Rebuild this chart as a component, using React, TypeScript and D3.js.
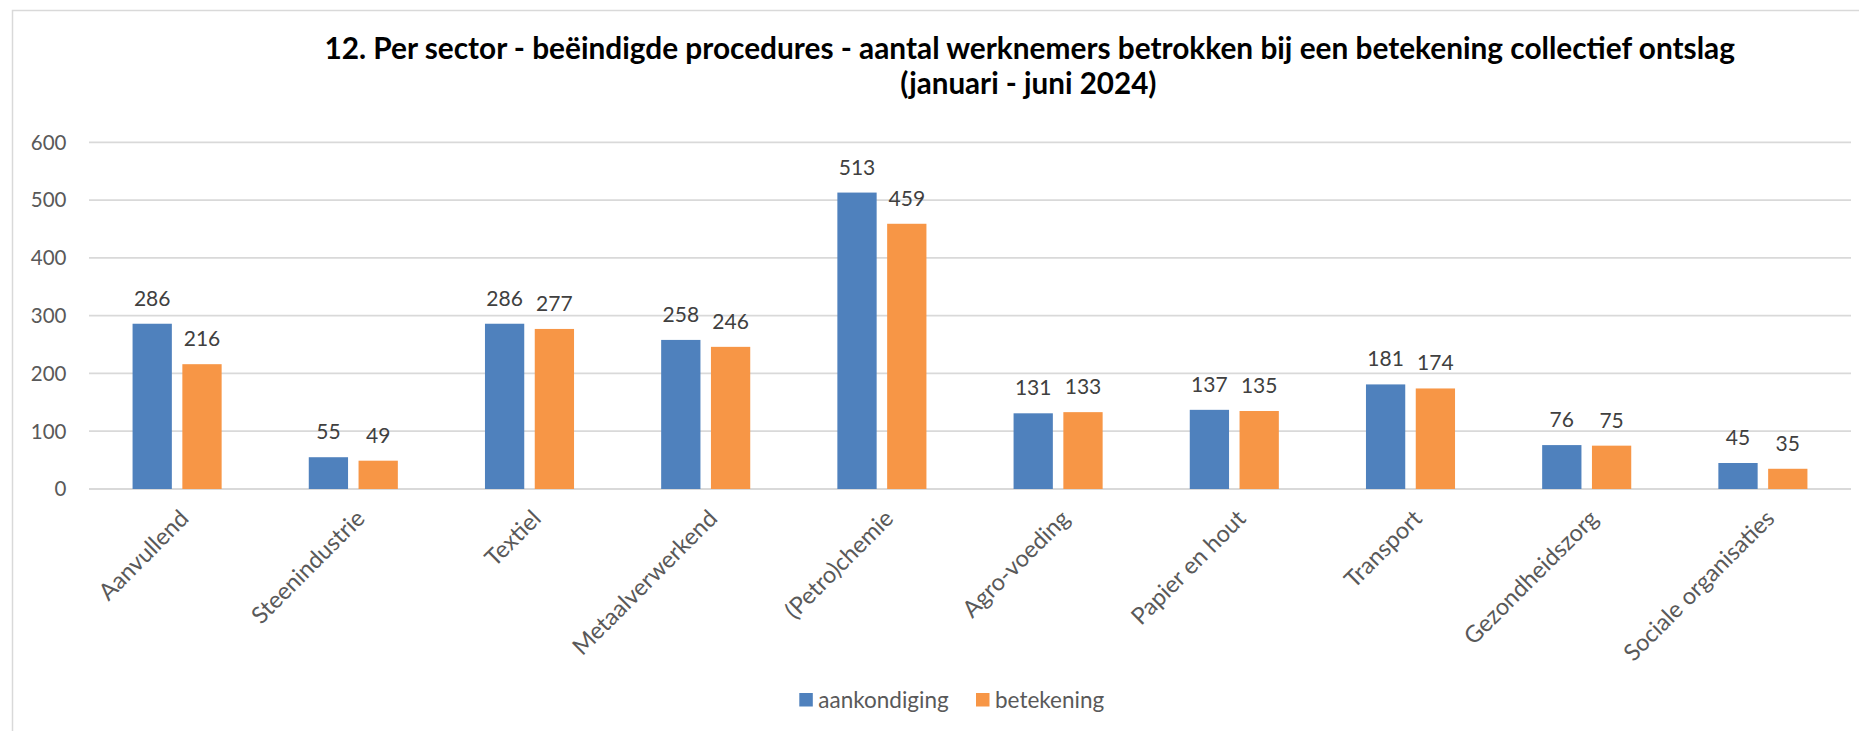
import React from "react";
import * as d3 from "d3";

const categories = [
  "Aanvullend",
  "Steenindustrie",
  "Textiel",
  "Metaalverwerkend",
  "(Petro)chemie",
  "Agro-voeding",
  "Papier en hout",
  "Transport",
  "Gezondheidszorg",
  "Sociale organisaties",
];
const aankondiging = [286, 55, 286, 258, 513, 131, 137, 181, 76, 45];
const betekening = [216, 49, 277, 246, 459, 133, 135, 174, 75, 35];
const seriesNames = ["aankondiging", "betekening"];
const seriesColors = ["#4F81BD", "#F79646"];
const yTicks = [0, 100, 200, 300, 400, 500, 600];
const titleLines = [
  "12. Per sector - beëindigde procedures - aantal werknemers betrokken bij een betekening collectief ontslag",
  "(januari - juni 2024)",
];

const W = 1859;
const H = 731;
const FONT = "Lato, 'Open Sans', sans-serif";

export default function App() {
  const plotLeft = 89;
  const plotRight = 1851;
  const plotTop = 142.3;
  const plotBottom = 489;

  const x0 = d3.scaleBand<string>().domain(categories).range([plotLeft, plotRight]).paddingInner(0).paddingOuter(0);
  const x1 = d3
    .scaleBand<string>()
    .domain(seriesNames)
    .range([0, x0.bandwidth()])
    .paddingInner(0.211)
    .paddingOuter(0.875);
  const y = d3.scaleLinear().domain([0, 600]).range([plotBottom, plotTop]);

  const series = [aankondiging, betekening];

  return (
    <svg
      width={W}
      height={H}
      style={{ position: "absolute", left: 0, top: 0, display: "block", background: "#fff" }}
      fontFamily={FONT}
    >
      <rect x={12.5} y={10.5} width={W + 10} height={H + 10} fill="#fff" stroke="#d9d9d9" strokeWidth={1.5} />

      {/* title */}
      <text x={1029.7} y={59.3} textAnchor="middle" fontSize={29.8} fontWeight={700} fill="#000">
        {titleLines[0]}
      </text>
      <text x={1028.4} y={94.3} textAnchor="middle" fontSize={29.6} fontWeight={700} fill="#000">
        {titleLines[1]}
      </text>

      {/* gridlines */}
      {yTicks.map((t) => (
        <line key={"g" + t} x1={plotLeft} x2={plotRight} y1={y(t)} y2={y(t)} stroke="#d9d9d9" strokeWidth={1.8} />
      ))}
      {/* y tick labels */}
      {yTicks.map((t) => (
        <text key={"t" + t} x={66.5} y={y(t) + 7.4} textAnchor="end" fontSize={20.5} fill="#595959">
          {t}
        </text>
      ))}

      {/* bars */}
      {categories.map((c, i) => (
        <g key={c} transform={`translate(${x0(c)},0)`}>
          {seriesNames.map((s, j) => {
            const v = series[j][i];
            return (
              <g key={s}>
                <rect
                  x={x1(s)}
                  y={y(v)}
                  width={x1.bandwidth()}
                  height={y(0) - y(v)}
                  fill={seriesColors[j]}
                />
                <text
                  x={(x1(s) as number) + x1.bandwidth() / 2}
                  y={y(v) - 18}
                  textAnchor="middle"
                  fontSize={21}
                  fill="#404040"
                >
                  {v}
                </text>
              </g>
            );
          })}
        </g>
      ))}

      {/* category labels */}
      {categories.map((c) => {
        const cx = (x0(c) as number) + x0.bandwidth() / 2 + 13;
        const cy = plotBottom + 31;
        return (
          <text
            key={"c" + c}
            x={cx}
            y={cy}
            transform={`rotate(-45 ${cx} ${cy})`}
            textAnchor="end"
            fontSize={23.5}
            fill="#595959"
          >
            {c}
          </text>
        );
      })}

      {/* legend */}
      {seriesNames.map((s, j) => {
        const lx = j === 0 ? 799.3 : 976;
        return (
          <g key={"l" + s}>
            <rect x={lx} y={693} width={13.5} height={13.5} fill={seriesColors[j]} />
            <text x={lx + 19} y={707.8} fontSize={22.5} fill="#595959">
              {s}
            </text>
          </g>
        );
      })}
    </svg>
  );
}
